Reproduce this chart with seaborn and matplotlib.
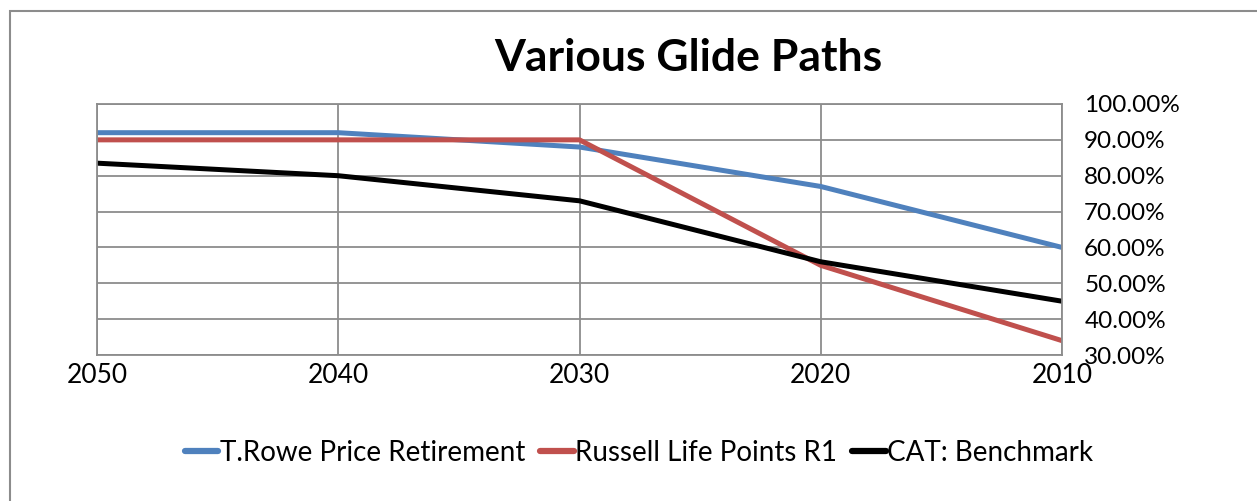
import pandas as pd
import matplotlib.pyplot as plt
import matplotlib.ticker as mtick
from matplotlib.patches import Rectangle
import seaborn as sns

years = [2050, 2040, 2030, 2020, 2010]
trowe = [0.92, 0.92, 0.88, 0.77, 0.60]
russell = [0.90, 0.90, 0.90, 0.55, 0.34]
cat = [0.835, 0.80, 0.73, 0.56, 0.45]
series_names = ["T.Rowe Price Retirement", "Russell Life Points R1", "CAT: Benchmark"]
colors = ["#4F81BD", "#C0504D", "#000000"]

df = pd.DataFrame({"year": years, series_names[0]: trowe,
                   series_names[1]: russell, series_names[2]: cat})
long = df.melt(id_vars="year", var_name="series", value_name="share")

sns.set_style("white")
plt.rcParams["font.family"] = ["Lato", "DejaVu Sans"]
plt.rcParams["text.color"] = "black"

fig = plt.figure(figsize=(12.57, 5.01), dpi=100)
ax = fig.add_axes([97 / 1257, 1 - 355 / 501, (1062 - 97) / 1257, (355 - 104) / 501])

sns.lineplot(data=long, x="year", y="share", hue="series", hue_order=series_names,
             palette=colors, linewidth=3.6, ax=ax, legend=False)

ax.set_xlim(2050, 2010)
ax.set_ylim(0.30, 1.00)
ax.set_xticks(years)
ax.set_xticklabels([str(y) for y in years])
ax.set_yticks([0.3, 0.4, 0.5, 0.6, 0.7, 0.8, 0.9, 1.0])
ax.yaxis.tick_right()
ax.yaxis.set_major_formatter(mtick.PercentFormatter(1.0, decimals=2))
ax.tick_params(axis="both", length=0, colors="black")
ax.tick_params(axis="x", pad=6, labelsize=19)
ax.tick_params(axis="y", pad=16, labelsize=17.5)
ax.grid(True, color="#8c8c8c", linewidth=1.3)
for s in ax.spines.values():
    s.set_visible(True)
    s.set_color("#8c8c8c")
    s.set_linewidth(1.3)
ax.set_xlabel("")
ax.set_ylabel("")

fig.text(688 / 1257, 1 - 58 / 501, "Various Glide Paths", ha="center", va="center",
         fontsize=32, fontweight="bold", color="black")

handles = [plt.Line2D([], [], color=c, linewidth=4.5) for c in colors]
fig.legend(handles, series_names, loc="center", bbox_to_anchor=(639 / 1257, 1 - 453 / 501),
           ncol=3, frameon=False, fontsize=20, handlelength=1.2, handletextpad=0.05,
           columnspacing=0.55)

fig.patches.append(Rectangle((10 / 1257, -0.2), 1.2, 1.2 - 11 / 501,
                             transform=fig.transFigure, fill=False,
                             edgecolor="#8c8c8c", linewidth=1.5))

fig.savefig("out.png", dpi=100)
